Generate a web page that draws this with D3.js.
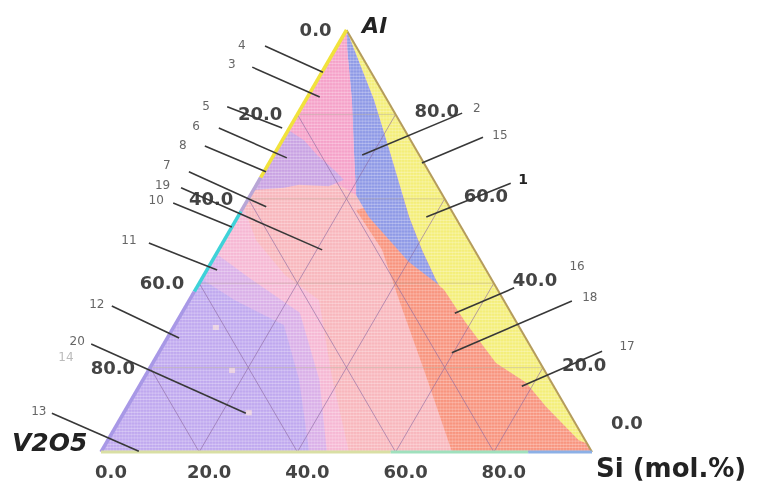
<!DOCTYPE html>
<html>
<head>
<meta charset="utf-8">
<script src="https://cdn.jsdelivr.net/npm/d3@7"></script>
<style>
  body { margin: 0; background: #fff; }
  svg { display: block; filter: blur(0.4px); }
</style>
</head>
<body>
<svg id="chart" width="766" height="482"></svg>
<script>
// every point is [Si, Al] in mol.%, V2O5 is what is left
const ticks = [0, 20, 40, 60, 80];
const tickLabels = ["0.0", "20.0", "40.0", "60.0", "80.0"];
const gridLevels = [20, 40, 60, 80];

const yellowEdge = [[0, 100], [13.9, 83.4], [22.9, 71.6], [34.9, 55.7], [41.4, 47.9], [47.8, 40.8], [49, 39.6],
    [50.7, 38.4], [59.0, 30.6], [69.9, 21.1], [78.4, 16.4], [85.3, 10.7], [95.9, 2.8], [98, 2]];
const blueLeft = [[49, 39.6], [40.2, 45.0], [34.5, 49.5], [26.7, 55.7], [21.5, 60.9], [15.7, 71.6], [9.4, 83.4], [2.5, 95.3], [0, 100]];
const hotPink = [[0, 100], [2.5, 95.3], [9.4, 83.4], [15.7, 71.6], [21.5, 60.9], [16.8, 63.3], [11.3, 64.9], [0, 64.5]];
const lilacPatch = [[0, 76.3], [4.4, 73.9], [8.8, 70.4], [14.1, 66.8], [17.2, 64.5], [14.9, 63.0], [8.7, 63.3], [6.0, 62.6], [0, 62.1]];
const lightSalmon = [[0, 66], [35, 60], [75, 0], [50.5, 0], [38, 18], [26.4, 36], [16.4, 42], [6.5, 50.2], [0, 58]];
const salmon = [[23.3, 57.3], [30, 60], [40, 60], [100, 0], [71.5, 0], [56.1, 19.4], [42.7, 36.0], [33.3, 47.9]];
const lilacBand = [[0, 47], [10, 41], [24, 33], [36, 17], [46, 0], [0, 0]];
const lilac = [[0, 41], [9.2, 36], [22.2, 30.1], [31.8, 17.1], [42.4, 0], [0, 0]];
const dots = [[8.7, 29.4], [17.1, 19.2], [25.5, 9.2]];

// edge colours: [from, to, colour], along Al on the left, Si on the bottom
const leftEdge = [[100, 65, "#f1e23c"], [65, 57, "#b8a6d6"], [57, 38, "#3fd2d8"], [38, 0, "#a898e6"]];
const bottomEdge = [[0, 59, "#d9dfa4"], [59, 87, "#9fe0bd"], [87, 100, "#8cb0e6"]];

// callouts: label, text point, line start, line end
const callouts = [
    ["4", [-19.5, 96.4], [-14.7, 96.2], [0.2, 90]],
    ["3", [-19.3, 91.9], [-14.8, 91.2], [2.5, 84.1]],
    ["5", [-19.6, 82.0], [-15.2, 81.8], [-1.5, 76.8]],
    ["6", [-19.3, 77.3], [-14.4, 76.8], [3.0, 69.7]],
    ["8", [-19.7, 72.7], [-15.1, 72.5], [0.4, 66.4]],
    ["7", [-20.6, 68.0], [-15.3, 66.4], [4.6, 58.1]],
    ["19", [-19.1, 63.3], [-15.0, 62.6], [21.1, 47.9]],
    ["10", [-18.6, 59.7], [-14.8, 59.0], [0, 53.3]],
    ["11", [-19.4, 50.2], [-15.0, 49.5], [2.1, 43.1]],
    ["12", [-18.4, 35.1], [-15.1, 34.6], [2.4, 27.0]],
    ["20", [-18.0, 26.3], [-14.8, 25.6], [24.9, 9.2]],
    ["14", [-18.4, 22.5], null, null],
    ["13", [-17.5, 9.7], [-14.6, 9.2], [7.6, 0.2]],
    ["2", [35.8, 81.5], [33.4, 80.3], [18.0, 70.4]],
    ["15", [43.7, 75.1], [40.5, 74.6], [31.1, 68.5]],
    ["1", [53.6, 64.7], [51.6, 63.7], [38.4, 55.7]],
    ["16", [74.9, 44.1], [64.7, 38.9], [55.6, 32.9]],
    ["18", [81.2, 36.7], [78.0, 35.8], [59.7, 23.5]],
    ["17", [94.6, 25.1], [90.1, 23.9], [77.9, 15.6]]
];

let svg = d3.select("#chart");

let xScale = d3.scaleLinear().domain([0, 100]).range([101, 592]);
let yScale = d3.scaleLinear().domain([0, 100]).range([452, 30]);
let px = d => xScale(d[0] + d[1] / 2);
let py = d => yScale(d[1]);
let line = d3.line().x(px).y(py);

let defs = svg.append("defs");
let pat = defs.append("pattern")
    .attr("id", "rows")
    .attr("width", 3)
    .attr("height", 3.2)
    .attr("patternUnits", "userSpaceOnUse");
pat.append("rect").attr("y", 2.2).attr("width", 3).attr("height", 1).attr("fill", "#fff").attr("opacity", 0.3);
pat.append("rect").attr("x", 2).attr("width", 1).attr("height", 3.2).attr("fill", "#fff").attr("opacity", 0.12);

let plot = svg.append("g");

plot.append("path").attr("d", line([[0, 0], [100, 0], [0, 100]]) + "Z").attr("fill", "#f6b8d4");

let regions = [
    [lightSalmon, "#f8b7bd"],
    [lilacBand, "#dab0e8"],
    [lilac, "#c0a9ef"],
    [salmon, "#f8957f"],
    [yellowEdge, "#f4ee7a"],
    [yellowEdge.slice(0, 7).concat(blueLeft), "#8f9ae6"],
    [hotPink, "#f5a2c9"],
    [lilacPatch, "#c9a3e3"]
];

plot.selectAll("path.region")
    .data(regions)
    .enter()
    .append("path")
    .attr("class", "region")
    .attr("d", d => line(d[0]) + "Z")
    .attr("fill", d => d[1]);

plot.selectAll("rect.dot")
    .data(dots)
    .enter()
    .append("rect")
    .attr("class", "dot")
    .attr("x", d => px(d) - 3)
    .attr("y", d => py(d) - 3)
    .attr("width", 6)
    .attr("height", 5)
    .attr("fill", "#f3d8dc")
    .attr("opacity", 0.8);

plot.append("path").attr("d", line([[0, 0], [100, 0], [0, 100]]) + "Z").attr("fill", "url(#rows)");

// grid, three families
let grid = plot.append("g");
gridLevels.forEach(g => {
    grid.append("path").attr("d", line([[g, 0], [g, 100 - g]]))
        .attr("stroke", "#8a68a0").attr("stroke-opacity", 0.6).attr("fill", "none");
    grid.append("path").attr("d", line([[100 - g, 0], [0, 100 - g]]))
        .attr("stroke", "#8a68a0").attr("stroke-opacity", 0.6).attr("fill", "none");
    grid.append("path").attr("d", line([[0, g], [100 - g, g]]))
        .attr("stroke", "#a89a88").attr("stroke-opacity", 0.4).attr("fill", "none");
});

// edges
plot.append("path").attr("d", line([[100, 0], [0, 100]]))
    .attr("stroke", "#b59c5c").attr("stroke-width", 2).attr("fill", "none");
plot.selectAll("path.ledge")
    .data(leftEdge)
    .enter()
    .append("path")
    .attr("class", "ledge")
    .attr("d", d => line([[0, d[0]], [0, d[1]]]))
    .attr("stroke", d => d[2])
    .attr("stroke-width", 3.5)
    .attr("fill", "none");
plot.selectAll("path.bedge")
    .data(bottomEdge)
    .enter()
    .append("path")
    .attr("class", "bedge")
    .attr("d", d => line([[d[0], 0], [d[1], 0]]))
    .attr("stroke", d => d[2])
    .attr("stroke-width", 3)
    .attr("fill", "none");

// tick labels
let tickFont = g => g.attr("font-family", "DejaVu Sans").attr("font-weight", "bold")
    .attr("font-size", 18).attr("fill", "#444");

svg.append("g").call(tickFont)
    .selectAll("text")
    .data(ticks)
    .enter()
    .append("text")
    .attr("x", d => px([d, 0]) + 10)
    .attr("y", 478)
    .attr("text-anchor", "middle")
    .text((d, i) => tickLabels[i]);

svg.append("g").call(tickFont)
    .selectAll("text")
    .data(ticks)
    .enter()
    .append("text")
    .attr("x", d => px([100 - d, d]) + 19)
    .attr("y", d => py([100 - d, d]) + 3 - (d === 0 ? 26 : 0))
    .text((d, i) => tickLabels[i]);

svg.append("g").call(tickFont)
    .selectAll("text")
    .data(ticks)
    .enter()
    .append("text")
    .attr("x", d => px([0, 100 - d]) - 15)
    .attr("y", d => py([0, 100 - d]) + 6)
    .attr("text-anchor", "end")
    .text((d, i) => tickLabels[i]);

// callouts
let co = svg.append("g");
co.selectAll("line")
    .data(callouts.filter(d => d[2]))
    .enter()
    .append("line")
    .attr("x1", d => px(d[2]))
    .attr("y1", d => py(d[2]))
    .attr("x2", d => px(d[3]))
    .attr("y2", d => py(d[3]))
    .attr("stroke", "#383838")
    .attr("stroke-width", 1.6);
co.selectAll("text")
    .data(callouts)
    .enter()
    .append("text")
    .attr("x", d => px(d[1]))
    .attr("y", d => py(d[1]))
    .attr("text-anchor", "middle")
    .attr("dominant-baseline", "central")
    .attr("font-family", "DejaVu Sans")
    .attr("font-size", d => d[0] === "1" ? 14 : 12)
    .attr("font-weight", d => d[0] === "1" ? "bold" : "normal")
    .attr("fill", d => d[0] === "1" ? "#222" : (d[0] === "14" ? "#bbb" : "#666"))
    .text(d => d[0]);

// vertex names
svg.append("text").attr("x", 362).attr("y", 33)
    .attr("font-family", "DejaVu Sans").attr("font-weight", "bold").attr("font-style", "italic")
    .attr("font-size", 22).attr("fill", "#222").text("Al");
svg.append("text").attr("x", 12).attr("y", 451)
    .attr("font-family", "DejaVu Sans").attr("font-weight", "bold").attr("font-style", "italic")
    .attr("font-size", 25).attr("fill", "#222").text("V2O5");
svg.append("text").attr("x", 596).attr("y", 477)
    .attr("font-family", "DejaVu Sans").attr("font-weight", "bold")
    .attr("font-size", 26).attr("fill", "#222").text("Si (mol.%)");
</script>
</body>
</html>
